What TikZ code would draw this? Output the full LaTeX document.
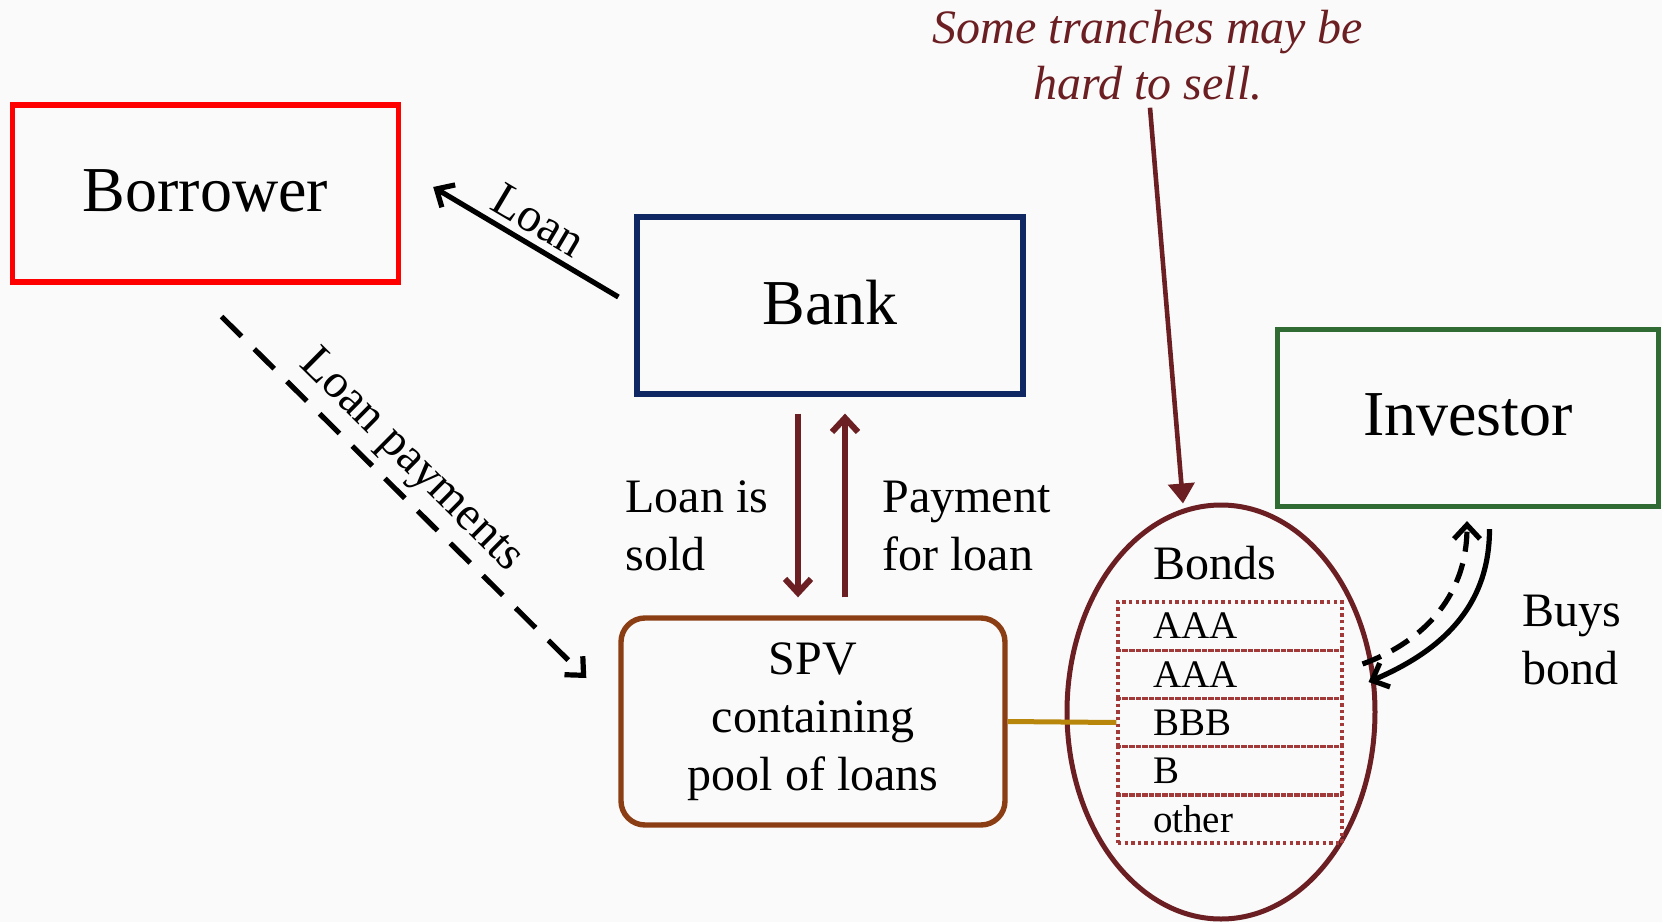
\documentclass[tikz,border=0pt]{standalone}
\usepackage{fontspec}
\setmainfont{Liberation Serif}
\usetikzlibrary{arrows.meta,shapes.geometric,calc}
\definecolor{borrowred}{RGB}{255,0,0}
\definecolor{banknavy}{RGB}{15,40,100}
\definecolor{invgreen}{RGB}{47,107,51}
\definecolor{spvbrown}{RGB}{139,62,19}
\definecolor{darkred}{RGB}{107,31,34}
\definecolor{dotred}{RGB}{163,58,58}
\definecolor{goldline}{RGB}{184,134,11}
\definecolor{bgcol}{RGB}{250,250,250}
\tikzset{
  bigbox/.style={draw, line width=2.6pt, minimum width=193pt, minimum height=88.5pt,
    inner sep=0pt, text depth=3.2pt, font=\fontsize{32}{38}\selectfont},
  lbl/.style={inner sep=0pt, align=left, font=\fontsize{24}{29}\selectfont},
  slab/.style={sloped, above, font=\fontsize{24}{29}\selectfont},
  barb/.style={-{Straight Barb[length=7pt,width=13pt]}},
  flow/.style={draw=darkred, line width=3pt, barb},
  tranche/.style={draw=dotred, line width=1.7pt, dash pattern=on 1.7pt off 1.6pt,
    minimum width=112pt, minimum height=24.1pt, text width=77pt, inner xsep=17.5pt,
    inner ysep=0pt, align=left, font=\fontsize{19.5}{23}\selectfont},
}
\begin{document}
\begin{tikzpicture}[x=0.5pt,y=-0.5pt]
\fill[bgcol] (0,0) rectangle (1662,922);
\useasboundingbox (0,0) rectangle (1662,922);

% boxes
\node[bigbox, draw=borrowred] (borrower) at (205.6,193.5) {Borrower};
\node[bigbox, draw=banknavy] (bank) at (830,305.5) {Bank};
\node[bigbox, draw=invgreen, minimum width=190.5pt] (investor) at (1468,418) {Investor};
\node[draw=spvbrown, line width=2.7pt, rounded corners=12pt, minimum width=192pt,
  minimum height=103.5pt, align=center, font=\fontsize{24}{29}\selectfont]
  (spv) at (813,721.5) {SPV\\containing\\pool of loans};

% bonds ellipse and tranches
\node[ellipse, draw=darkred, line width=2.5pt, minimum width=154pt, minimum height=207pt,
  inner sep=0pt] (bonds) at (1221,712) {};
\node[lbl, anchor=west] (bondslbl) at (1153,563) {Bonds};
\node[tranche] (r1) at (1230,626.1) {AAA};
\node[tranche] (r2) at (1230,674.3) {AAA};
\node[tranche] (r3) at (1230,722.5) {BBB};
\node[tranche] (r4) at (1230,770.7) {B};
\node[tranche] (r5) at (1230,818.9) {other};

\draw[goldline, line width=2.5pt] (spv.east) -- (r3.west);

% loan arrow
\draw[black, line width=2.6pt, barb] ($(bank.west)+(-16,-8.5)$) --
  node[slab] {Loan} ($(borrower.east)+(32,-6.5)$);
% loan payments
\draw[black, line width=2.6pt, dash pattern=on 14pt off 9pt, barb]
  ($(borrower.south)+(16,32)$) -- node[slab, pos=0.46] {Loan payments}
  ($(spv.west)+(-32,-43.5)$);

% bank <-> spv
\draw[flow] ($(bank.south)+(-32,17)$) -- ($(spv.north)+(-15,-18)$);
\draw[flow] ($(spv.north)+(32,-18)$) -- ($(bank.south)+(15,17)$);
\node[lbl, anchor=west] (sold) at (625,526) {Loan is\\sold};
\node[lbl, anchor=west] (paid) at (882,526) {Payment\\for loan};

% annotation
\node[lbl, align=center, text=darkred, font=\fontsize{24}{28.3}\selectfont\itshape]
  (note) at (1148,55) {Some tranches may be\\hard to sell.};
\draw[darkred, line width=2.3pt, -{Triangle[length=10pt,width=13pt]}]
  ($(note.south)+(2,7)$) -- ($(bonds.north)+(-38,1)$);

% buys bond
\draw[black, line width=2.6pt, barb] ($(investor.south)+(21.5,20)$)
  .. controls +(0,80) and +(70,-30) .. ($(bonds.east)+(-9,-30)$);
\draw[black, line width=2.6pt, dash pattern=on 10pt off 6pt, barb]
  ($(bonds.east)+(-15,-48)$) .. controls +(55,-20) and +(0,80) ..
  ($(investor.south)+(-1,12)$);
\node[lbl, anchor=west] (buys) at (1522,640) {Buys\\bond};
\end{tikzpicture}
\end{document}
